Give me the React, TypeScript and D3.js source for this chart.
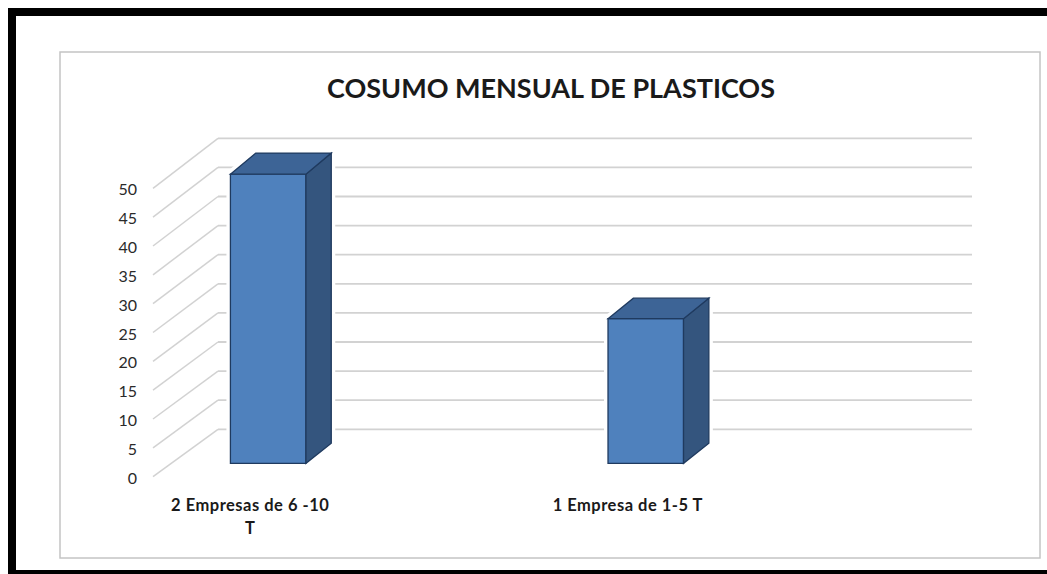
import React from 'react';
import * as d3 from 'd3';

const title = 'COSUMO MENSUAL DE PLASTICOS';
const categories = ['2 Empresas de 6 -10 T', '1 Empresa de 1-5 T'];
const categoryLines = [['2 Empresas de 6 -10', 'T'], ['1 Empresa de 1-5 T']];
const values = [50, 25];
const yTicks = [0, 5, 10, 15, 20, 25, 30, 35, 40, 45, 50];

const W = 1047;
const H = 574;
const FONT = 'Lato, "Open Sans", sans-serif';

export default function App() {
  const yFront = d3.scaleLinear().domain([0, 50]).range([476.7, 188.3]);
  const yBack = d3.scaleLinear().domain([0, 50]).range([429.3, 138.3]);
  const xFrontLeft = 153;
  const xBackLeft = 218;
  const xBackRight = 972;
  const depthDx = 60;
  const yAt = (v: number, f: number) => yFront(v) * (1 - f) + yBack(v) * f;

  const x = d3.scaleBand<string>().domain(categories).range([62.4, 817.6]).padding(0);
  const barW = x.bandwidth() * 0.2;
  const f1 = 0.283;
  const f2 = 0.705;

  const bars = categories.map((c, i) => {
    const v = values[i];
    const cx = (x(c) as number) + x.bandwidth() / 2;
    const xl = cx - barW / 2 + f1 * depthDx;
    const xr = xl + barW;
    const sd = (f2 - f1) * depthDx;
    const fb = yAt(0, f1);
    const ft = yAt(v, f1);
    const bb = yAt(0, f2);
    const bt = yAt(v, f2);
    const front = [[xl, ft], [xr, ft], [xr, fb], [xl, fb]];
    const side = [[xr, ft], [xr + sd, bt], [xr + sd, bb], [xr, fb]];
    const top = [[xl, ft], [xl + sd, bt], [xr + sd, bt], [xr, ft]];
    const outline = [[xl, ft], [xl + sd, bt], [xr + sd, bt], [xr + sd, bb], [xr, fb], [xl, fb]];
    return { c, cx, front, side, top, outline };
  });
  const pts = (p: number[][]) => p.map((q) => q.join(',')).join(' ');

  return (
    <svg width={W} height={H} style={{ position: 'absolute', left: 0, top: 0, background: '#fff' }}>
      <rect x={12} y={12} width={1060} height={562} fill="#fff" stroke="#000" strokeWidth={8} />
      <rect x={60} y={52} width={980} height={506} fill="#fff" stroke="#c4c4c4" strokeWidth={1.5} />
      <text x={551} y={98} textAnchor="middle" fontFamily={FONT} fontWeight="bold" fontSize={27} fill="#1a1a1a">
        {title}
      </text>
      {yTicks.map((t) => (
        <g key={t}>
          <line x1={xBackLeft} x2={xBackRight} y1={yBack(t)} y2={yBack(t)} stroke="#d2d2d2" strokeWidth={1.8} />
          <line x1={xFrontLeft} x2={xBackLeft} y1={yFront(t)} y2={yBack(t)} stroke="#d2d2d2" strokeWidth={1.5} />
          <text x={137} y={yFront(t) + 7} textAnchor="end" fontFamily={FONT} fontSize={16} fill="#2a2a2a">
            {t}
          </text>
        </g>
      ))}
      {bars.map((b) => (
        <g key={b.c}>
          <polygon points={pts(b.outline)} fill="#fff" stroke="#fff" strokeWidth={8} strokeLinejoin="round" />
          <polygon points={pts(b.front)} fill="#4F81BD" stroke="#1F3A5F" strokeWidth={1.3} />
          <polygon points={pts(b.side)} fill="#34557E" stroke="#1F3A5F" strokeWidth={1.3} />
          <polygon points={pts(b.top)} fill="#3D6496" stroke="#1F3A5F" strokeWidth={1.3} />
        </g>
      ))}
      {bars.map((b, i) => (
        <text key={b.c} textAnchor="middle" fontFamily={FONT} fontWeight="bold" fontSize={16.5} letterSpacing={0.5} fill="#1a1a1a">
          {categoryLines[i].map((ln, j) => (
            <tspan key={j} x={b.cx - 1} y={511 + j * 23}>
              {ln}
            </tspan>
          ))}
        </text>
      ))}
    </svg>
  );
}
